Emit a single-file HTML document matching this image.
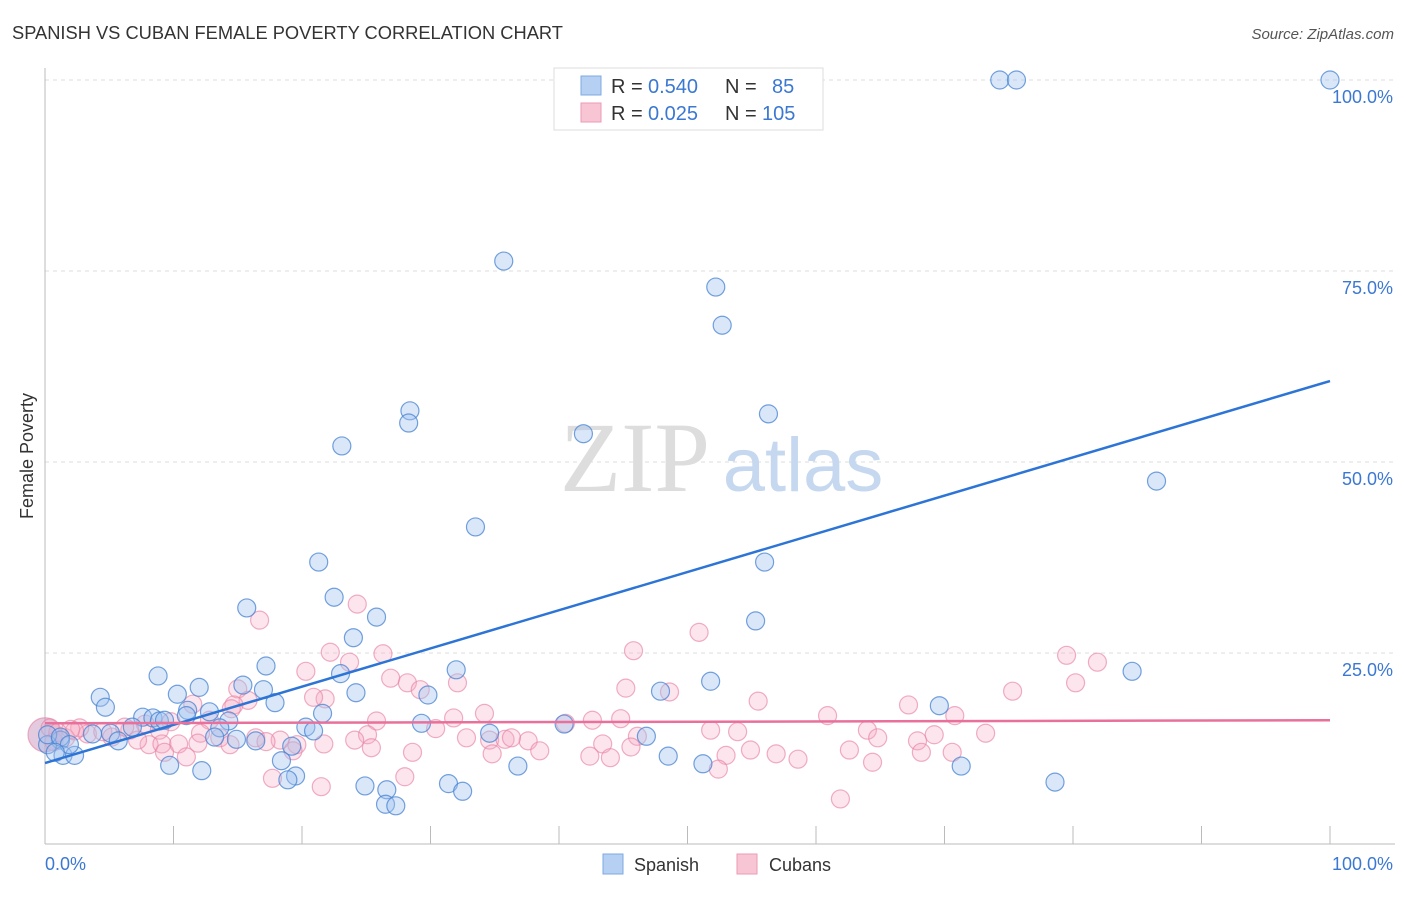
<!DOCTYPE html>
<html><head><meta charset="utf-8"><style>
body{margin:0;background:#fff;font-family:"Liberation Sans",sans-serif;}
svg text{font-family:"Liberation Sans",sans-serif;}
</style></head><body>
<svg id="chart" width="1406" height="892" viewBox="0 0 1406 892">
<text x="12" y="39" font-size="18.3" fill="#333">SPANISH VS CUBAN FEMALE POVERTY CORRELATION CHART</text>
<text x="1394" y="39" font-size="15" fill="#555" font-style="italic" text-anchor="end">Source: ZipAtlas.com</text>
<text transform="translate(33,456) rotate(-90)" font-size="18" fill="#333" text-anchor="middle">Female Poverty</text>
<g id="grid"></g>
<g id="axes"></g>
<g>
<text x="635" y="491" font-size="100" fill="#ddd" text-anchor="middle" style="font-family:'Liberation Serif',serif">ZIP</text>
<text x="803" y="491" font-size="76" fill="#c5d8ef" text-anchor="middle">atlas</text>
</g>
<g id="pts"></g>
<g id="lines"></g>
<g>
<rect x="554" y="68" width="269" height="62" fill="#fff" stroke="#ddd"/>
<rect x="581" y="76" width="20" height="19" fill="#b5d0f2" stroke="#7ea9e0"/>
<rect x="581" y="103" width="20" height="19" fill="#f8c5d5" stroke="#ec9ab5"/>
<text x="611" y="93" font-size="20" fill="#333">R = <tspan x="648" fill="#3b78d2">0.540</tspan><tspan x="725">N =</tspan><tspan x="772" fill="#3b78d2">85</tspan></text>
<text x="611" y="120" font-size="20" fill="#333">R = <tspan x="648" fill="#3b78d2">0.025</tspan><tspan x="725">N =</tspan><tspan x="762" fill="#3b78d2">105</tspan></text>
</g>
<g>
<rect x="603" y="854" width="20" height="20" fill="#b5d0f2" stroke="#7ea9e0"/>
<text x="634" y="871" font-size="18" fill="#333">Spanish</text>
<rect x="737" y="854" width="20" height="20" fill="#f8c5d5" stroke="#ec9ab5"/>
<text x="769" y="871" font-size="18" fill="#333">Cubans</text>
</g>
</svg>
<script>
const spanishX=[74.3,75.6,100,35.7,52.2,52.7,56.3,28.4,28.3,23.1,41.9,86.5,33.5,21.3,56.0,22.5,15.7,25.8,55.3,24.0,84.6,17.2,32.0,8.8,23.0,15.4,12.0,17.0,47.9,51.8,10.3,24.2,29.8,4.3,4.7,11.1,12.8,17.9,69.6,21.6,7.6,8.4,8.9,11.0,14.3,40.4,29.3,20.3,20.9,6.8,13.6,5.1,14.9,16.4,34.6,46.8,13.2,19.2,5.7,3.7,1.2,0.2,1.4,2.3,48.5,9.7,36.8,51.2,71.3,12.2,19.5,18.9,78.6,24.9,31.4,32.5,26.6,26.5,27.3,18.4,0.2,1.2,1.9,0.8,9.3];
const spanishY=[100,100,100,76.3,72.9,67.9,56.3,56.7,55.1,52.1,53.7,47.5,41.5,36.9,36.9,32.3,30.9,29.7,29.2,27.0,22.6,23.3,22.8,22.0,22.3,20.8,20.5,20.2,20.0,21.3,19.6,19.8,19.5,19.2,17.9,17.5,17.3,18.5,18.1,17.1,16.6,16.5,16.1,16.8,16.1,15.7,15.8,15.3,14.8,15.3,15.2,14.5,13.7,13.5,14.5,14.1,14.0,12.8,13.5,14.4,13.6,13.0,11.6,11.6,11.5,10.3,10.2,10.5,10.2,9.6,8.9,8.4,8.1,7.6,7.9,6.9,7.1,5.2,5.0,10.9,14.3,14.0,13.0,12.0,16.2];
const cubanX=[0,16.7,24.3,50.9,45.8,79.5,81.9,22.2,23.7,20.3,26.3,26.9,28.2,80.2,45.2,48.6,29.2,32.1,21.8,20.9,15.0,15.8,14.7,75.3,55.5,67.2,14.5,70.8,60.9,34.2,25.8,31.8,12.8,9.8,11.5,42.6,44.8,40.5,30.4,51.8,53.9,64.0,73.2,7.8,6.6,5.2,6.2,3.3,2.7,4.5,8.9,12.1,13.6,16.4,18.3,19.6,21.7,25.1,32.8,34.6,35.8,37.6,43.4,46.1,64.8,67.9,69.2,8.1,9.1,10.4,11.9,9.3,11.0,19.3,24.1,25.4,28.6,34.8,36.3,38.5,42.4,44.0,45.6,53.0,54.9,56.9,58.6,62.6,64.4,68.2,70.6,17.7,21.5,28.0,52.4,61.9,0.7,1.6,7.2,0.4,2.3,14.4,17.2,2.0,1.0];
const cubanY=[14.3,29.3,31.4,27.7,25.3,24.7,23.8,25.1,23.8,22.6,24.9,21.7,21.1,21.1,20.4,19.9,20.2,21.1,19.0,19.2,20.3,18.8,18.2,20.0,18.7,18.2,17.7,16.8,16.8,17.1,16.1,16.5,16.2,16.0,18.3,16.2,16.4,15.8,15.1,14.9,14.7,14.9,14.5,15.7,14.9,14.0,15.3,14.4,15.2,14.7,14.9,14.5,13.9,13.9,13.6,13.0,13.1,14.3,13.9,13.6,13.7,13.5,13.1,14.1,13.9,13.5,14.3,13.0,13.1,13.1,13.2,12.0,11.4,12.2,13.6,12.6,12.0,11.8,13.9,12.2,11.5,11.3,12.7,11.6,12.3,11.8,11.1,12.3,10.7,12.0,12.0,8.6,7.5,8.8,9.8,5.9,13.4,13.9,13.6,15.2,14.8,13.0,13.4,15.0,14.6];
const trendSpanish=[10.6,60.6];
const trendCubans=[15.8,16.2];
const xTicks=[10,20,30,40,50,60,70,80,90,100];
const yTicks=[25,50,75,100];
const yTickLabels=["25.0%","50.0%","75.0%","100.0%"];
const X0=45,X1=1330,Y0=844,Y1=80;
function sx(v){return X0+(X1-X0)*v/100;}
function sy(v){return Y0-(Y0-Y1)*v/100;}
const NS="http://www.w3.org/2000/svg";
function mk(tag,attrs,parent){const e=document.createElementNS(NS,tag);for(const k in attrs)e.setAttribute(k,attrs[k]);parent.appendChild(e);return e;}
const grid=document.getElementById('grid'),axes=document.getElementById('axes'),pts=document.getElementById('pts'),lines=document.getElementById('lines');
yTicks.forEach((t,i)=>{
 const l=mk('line',{x1:X0,x2:1395,y1:sy(t),y2:sy(t),stroke:'#ddd','stroke-dasharray':'4,4'},grid);
 
 
 const tx=mk('text',{x:1393,y:sy(t)+23,'font-size':18,fill:'#3b78d2','text-anchor':'end'},axes);
 tx.textContent=yTickLabels[i];
 
 
});
const ya=mk('line',{x1:X0,x2:X0,y1:68,y2:Y0,stroke:'#bbb'},axes);


const xa=mk('line',{x1:X0,x2:1395,y1:Y0,y2:Y0,stroke:'#bbb'},axes);


xTicks.forEach(t=>{
 const l=mk('line',{x1:sx(t),x2:sx(t),y1:826,y2:Y0,stroke:'#bbb'},axes);
 
 
});
const xl0=mk('text',{x:45,y:870,'font-size':18,fill:'#3b78d2'},axes);xl0.textContent='0.0%';


const xl1=mk('text',{x:1393,y:870,'font-size':18,fill:'#3b78d2','text-anchor':'end'},axes);xl1.textContent='100.0%';


cubanX.forEach((v,i)=>{
 const c=mk('circle',{cx:sx(v),cy:sy(cubanY[i]),r:i===0?17:9,fill:i===0?'rgba(200,150,190,0.5)':'rgba(246,170,195,0.3)',stroke:'rgba(232,130,165,0.65)','stroke-width':1.2},pts);
 
 
});
spanishX.forEach((v,i)=>{
 const c=mk('circle',{cx:sx(v),cy:sy(spanishY[i]),r:9,fill:'rgba(160,196,240,0.4)',stroke:'rgba(70,130,210,0.75)','stroke-width':1.2},pts);
 
 
});
const ls=mk('line',{x1:sx(0),y1:sy(trendSpanish[0]),x2:sx(100),y2:sy(trendSpanish[1]),stroke:'#2c74d6','stroke-width':2.5},lines);


const lc=mk('line',{x1:sx(0),y1:sy(trendCubans[0]),x2:sx(100),y2:sy(trendCubans[1]),stroke:'#e8709a','stroke-width':2.5},lines);


</script>
</body></html>
